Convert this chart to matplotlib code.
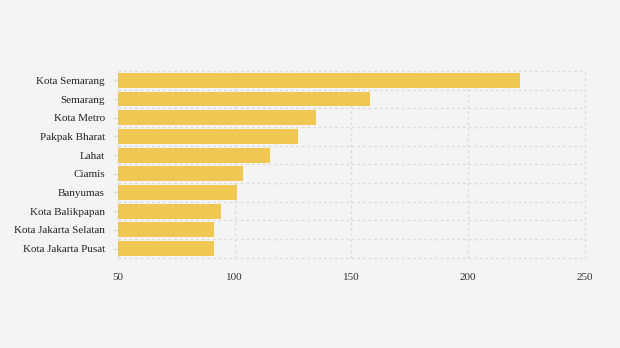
import matplotlib.pyplot as plt
import numpy as np

regions = ["Kota Semarang", "Semarang", "Kota Metro", "Pakpak Bharat", "Lahat",
           "Ciamis", "Banyumas", "Kota Balikpapan", "Kota Jakarta Selatan",
           "Kota Jakarta Pusat"]
values = [222, 158, 135, 127, 115, 103.5, 101, 94, 91, 91]
x_ticks = [50, 100, 150, 200, 250]

plt.rcParams['font.family'] = ['Liberation Serif', 'DejaVu Serif']

fig = plt.figure(figsize=(6.2, 3.48), dpi=100, facecolor='#f4f4f4')
ax = fig.add_axes([0.190, 0.259, 0.7535, 0.537])
ax.set_facecolor('#f4f4f4')

y = np.arange(len(regions))
ax.barh(y, values, height=0.8, color='#f0c752', zorder=2)

ax.set_xlim(50, 250)
ax.set_ylim(len(regions) - 0.5, -0.5)
ax.set_xticks(x_ticks)
ax.set_xticklabels([str(t) for t in x_ticks], fontsize=8, color='#333333')
ax.set_yticks(y)
ax.set_yticklabels(regions, fontsize=8, color='#222222')
ax.set_yticks(np.arange(-0.5, len(regions), 1.0), minor=True)

ax.tick_params(axis='x', length=0, pad=11)
ax.tick_params(axis='y', which='major', length=3.6, color='#dddddd', pad=5.8, width=1)
ax.tick_params(axis='y', which='minor', length=0)

ax.grid(axis='x', which='major', color='#dcdcdc', linestyle=(0, (2, 2)), linewidth=1, zorder=1)
ax.grid(axis='y', which='minor', color='#dcdcdc', linestyle=(0, (2, 2)), linewidth=1, zorder=1)
ax.grid(axis='y', which='major', visible=False)
for t in ax.xaxis.get_major_ticks() + ax.yaxis.get_minor_ticks():
    t.gridline.set_clip_on(False)
for s in ax.spines.values():
    s.set_visible(False)

fig.savefig('out.png', dpi=100, facecolor=fig.get_facecolor())
